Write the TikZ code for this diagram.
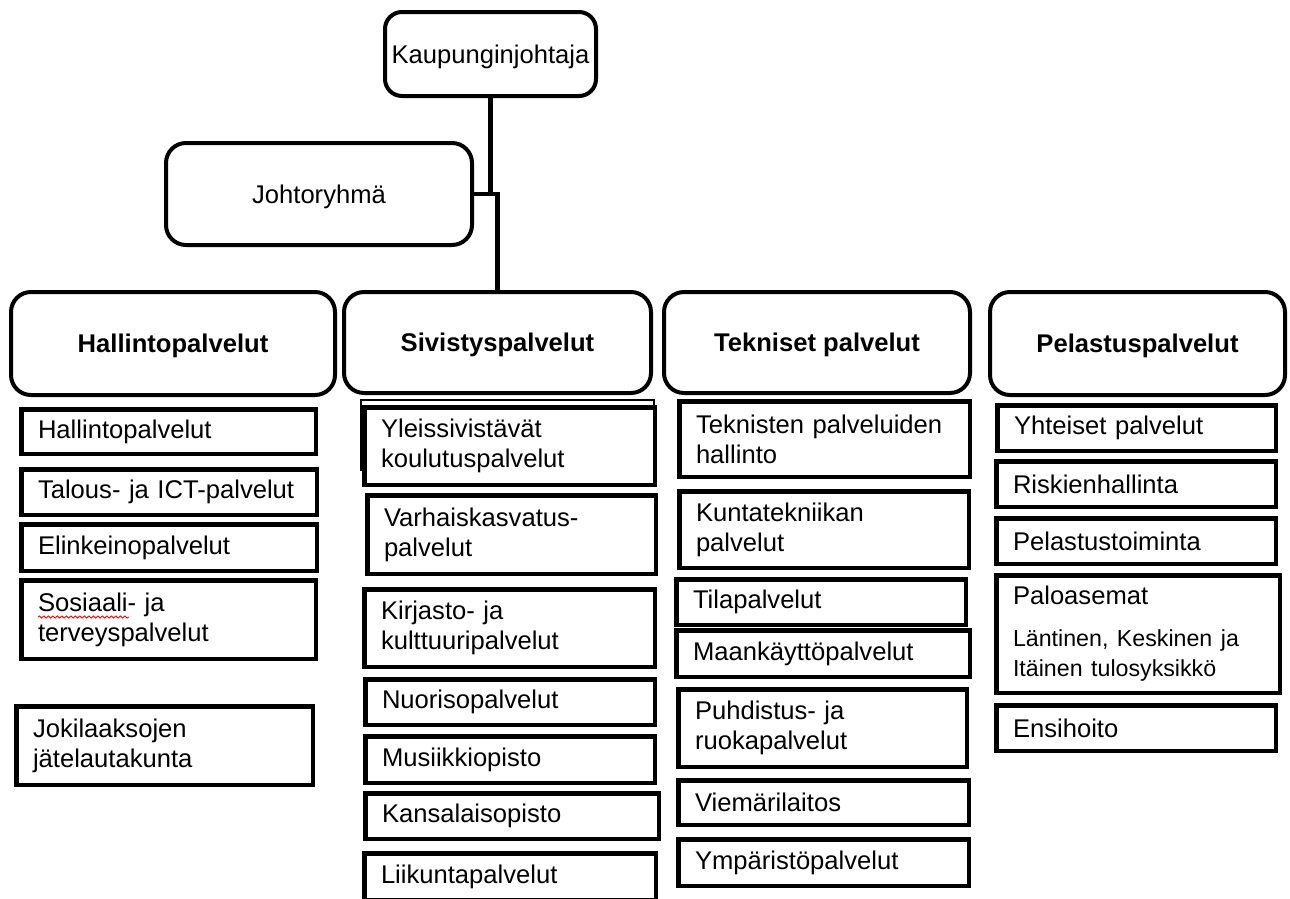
\documentclass[tikz,border=0pt]{standalone}
\usepackage{fontspec}
\setmainfont{Liberation Sans}
\usetikzlibrary{decorations.pathmorphing}
\begin{document}
\begin{tikzpicture}[x=1pt,y=-1pt,
  every node/.style={font=\fontsize{25.6}{30}\selectfont, text=black},
  hdr/.style={draw, rounded corners=20pt, line width=4pt, fill=white, inner sep=0pt, text height=18.4pt, text depth=0pt, font=\fontsize{25.6}{30}\selectfont\bfseries},
  topbox/.style={draw, rounded corners=17pt, line width=4pt, fill=white, inner sep=0pt, text height=18.4pt, text depth=0pt},
  hsz/.style 2 args={minimum width=#1pt-4pt, minimum height=#2pt-4pt},
  sub/.style={draw, line width=4.5pt, fill=white, inner sep=0pt, align=left},
  box/.style 2 args={minimum width=#1pt-4.5pt, minimum height=#2pt-4.5pt, text width=#1pt-38pt},
  thinbox/.style={draw, line width=1.2pt, fill=white, inner sep=0pt},
  conn/.style={line width=4.5pt},
  squiggle/.style={draw=red, line width=0.8pt, decorate, decoration={snake, amplitude=1.1pt, segment length=4.5pt}}]
\useasboundingbox (0,0) rectangle (1290,898);
\clip (0,0) rectangle (1290,898);

% top level
\node[topbox, hsz={215}{88}] (K) at (490.5,54) {Kaupunginjohtaja};
\node[topbox, rounded corners=20pt, hsz={310}{106}] (J) at (319,194) {Johtoryhmä};

% headers
\node[hdr, hsz={328}{107}] (H) at (173,343.5) {Hallintopalvelut};
\node[hdr, hsz={311}{105}] (S) at (497.5,342.5) {Sivistyspalvelut};
\node[hdr, hsz={310}{105}] (T) at (817,342.5) {Tekniset palvelut};
\node[hdr, hsz={299}{107}] (P) at (1137.5,343.5) {Pelastuspalvelut};

% connectors
\draw[conn] (K.south) -- (K.south |- J.east);
\draw[conn] (J.east) -- (S.north |- J.east) -- (S.north);

% Hallintopalvelut column
\node[sub, box={299}{49}] (h1) at (168.5,431.5) {Hallintopalvelut};
\node[sub, box={300}{50}] (h2) at (169,492) {Talous- ja ICT-palvelut};
\node[sub, box={300}{51}] (h3) at (169,547.5) {Elinkeinopalvelut};
\node[sub, box={299}{83}] (h4) at (168.5,619.5) {Sosiaali- ja\\terveyspalvelut};
\draw[squiggle] (38,617) -- (129,617);
\node[sub, box={301}{83}] (h5) at (164.5,745.5) {Jokilaaksojen\\jätelautakunta};

% Sivistyspalvelut column
\node[thinbox, minimum width=293pt, minimum height=70pt] (sback) at (507.5,435) {};
\node[sub, box={295}{82}] (s1) at (509.5,446) {Yleissivistävät\\koulutuspalvelut};
\node[sub, box={293}{83}] (s2) at (511.5,534.5) {Varhaiskasvatus-\\palvelut};
\node[sub, box={295}{82}] (s3) at (509.5,628) {Kirjasto- ja\\kulttuuripalvelut};
\node[sub, box={294}{50}] (s4) at (510,702) {Nuorisopalvelut};
\node[sub, box={294}{51}] (s5) at (510,759.5) {Musiikkiopisto};
\node[sub, box={298}{50}] (s6) at (512,816) {Kansalaisopisto};
\node[sub, box={296}{51}] (s7) at (510,876.5) {Liikuntapalvelut};

% Tekniset palvelut column
\node[sub, box={295}{80}] (t1) at (824.5,439) {Teknisten palveluiden\\hallinto};
\node[sub, box={294}{81}] (t2) at (824,529.5) {Kuntatekniikan\\palvelut};
\node[sub, box={294}{50}] (t3) at (821,602) {Tilapalvelut};
\node[sub, box={298}{51}] (t4) at (823,653.5) {Maankäyttöpalvelut};
\node[sub, box={293}{82}] (t5) at (822.5,728) {Puhdistus- ja\\ruokapalvelut};
\node[sub, box={295}{49}] (t6) at (823.5,802.5) {Viemärilaitos};
\node[sub, box={295}{51}] (t7) at (823.5,862.5) {Ympäristöpalvelut};

% Pelastuspalvelut column
\node[sub, box={283}{50}] (p1) at (1136.5,428) {Yhteiset palvelut};
\node[sub, box={284}{50}] (p2) at (1136,484) {Riskienhallinta};
\node[sub, box={284}{50}] (p3) at (1136,541) {Pelastustoiminta};
\node[sub, box={288}{122}] (p4) at (1138,634) {Paloasemat\\[14pt]{\fontsize{23.2}{28}\selectfont Läntinen, Keskinen ja\\Itäinen tulosyksikkö}};
\node[sub, box={284}{50}] (p5) at (1136,728) {Ensihoito};
\end{tikzpicture}
\end{document}
